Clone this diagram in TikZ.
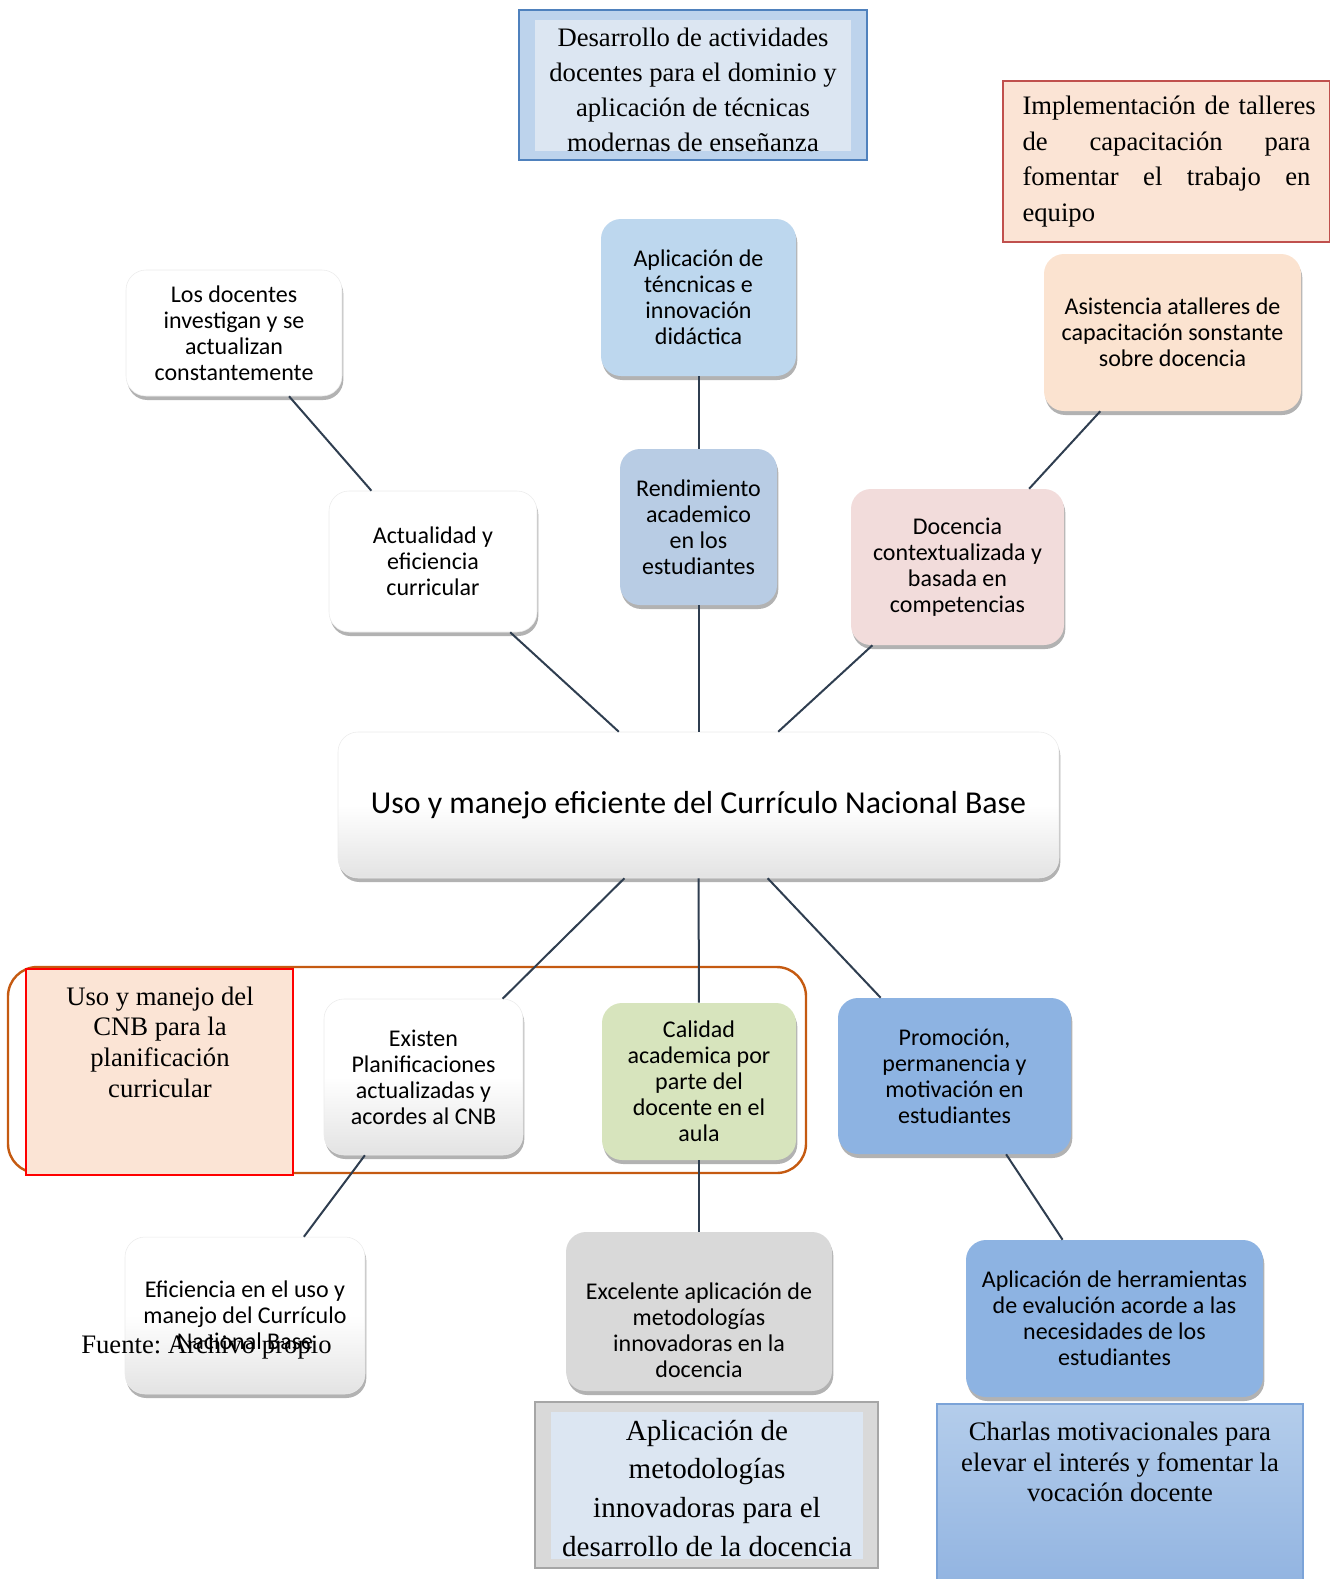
\documentclass[tikz,border=0pt]{standalone}
\usepackage{fontspec}
\setmainfont{Liberation Serif}
\newfontfamily\calibri{Carlito}
\usetikzlibrary{shadows}
\definecolor{azulmarco}{HTML}{4F81BD}
\definecolor{azulbanda}{HTML}{BDD3EC}
\definecolor{azulpalido}{HTML}{DCE6F2}
\definecolor{rojomarco}{HTML}{C0504D}
\definecolor{salmon}{HTML}{FBE4D5}
\definecolor{azultec}{HTML}{BDD7EE}
\definecolor{azulrend}{HTML}{B8CCE4}
\definecolor{melocoton}{HTML}{FBE3D0}
\definecolor{rosado}{HTML}{F2DCDB}
\definecolor{verde}{HTML}{D7E4BD}
\definecolor{azulfuerte}{HTML}{8DB3E2}
\definecolor{grisnodo}{HTML}{D9D9D9}
\definecolor{grismarco}{HTML}{A6A6A6}
\definecolor{azulborde}{HTML}{7BA3D8}
\definecolor{charlasarriba}{HTML}{B4CDEB}
\definecolor{charlasabajo}{HTML}{92B4E1}
\definecolor{naranja}{HTML}{C55A11}
\definecolor{linea}{HTML}{2F3E50}

\begin{document}
\begin{tikzpicture}[x =0.75pt, y =-0.75pt,
  nodo/.style ={rounded corners =15pt, align =center, inner sep =2pt, font =\calibri\fontsize{18}{19.5}\selectfont,
    drop shadow ={shadow xshift =1pt, shadow yshift =-3pt, fill =black, opacity =.3}},
  blanco/.style ={nodo, fill =white, draw =black!8},
  degradado/.style ={nodo, draw =black!8, top color =white, bottom color =black!11, middle color =white},
  caja/.style ={align =center, inner sep =0pt, font =\fontsize{20}{23}\selectfont},
  lin/.style ={draw =linea, line width =1.5pt}]
\useasboundingbox (0,0) rectangle (1330,1579);

\node[draw =azulmarco, fill =azulbanda, line width =1.2pt, minimum width =261pt, minimum height =112.5pt](k1) at (693,85){};
\node[caja, fill =azulpalido, minimum width =237pt, minimum height =98.25pt, font =\fontsize{20}{26.25}\selectfont](c1) at (693,85.5){\rule{0pt}{19.7pt}Desarrollo de actividades\\docentes para el dominio y\\aplicación de técnicas\\modernas de enseñanza};
\node[draw =rojomarco, fill =salmon, line width =1.2pt, minimum width =245.25pt, minimum height =120.75pt, text width =216pt, align =left, font =\fontsize{20}{26.6}\selectfont](c2) at (1166.5,161.5){\mbox{Implementación de talleres}\\de\hfill capacitación\hfill para\\fomentar\hfill el\hfill trabajo\hfill en\\equipo};

\node[blanco, minimum width =162pt, minimum height =94.5pt](a1) at (234,333){Los docentes\\investigan y se\\actualizan\\constantemente};
\node[nodo, fill =azultec, minimum width =146.25pt, minimum height =117.75pt](a2) at (698.5,297.5){Aplicación de\\téncnicas e\\innovación\\didáctica};
\node[nodo, fill =melocoton, minimum width =192.75pt, minimum height =117.75pt](a3) at (1172.5,332.5){Asistencia atalleres de\\capacitación sonstante\\sobre docencia};

\node[blanco, minimum width =156pt, minimum height =105.75pt](b1) at (433,561.5){Actualidad y\\eficiencia\\curricular};
\node[nodo, fill =azulrend, minimum width =117.75pt, minimum height =117pt](b2) at (698.5,527){Rendimiento\\academico\\en los\\estudiantes};
\node[nodo, fill =rosado, minimum width =159.75pt, minimum height =117pt](b3) at (957.5,567){Docencia\\contextualizada y\\basada en\\competencias};

\node[degradado, minimum width =540.75pt, minimum height =109.5pt, font =\calibri\fontsize{23.9}{28}\selectfont](m) at (698.5,805){Uso y manejo eficiente del Currículo Nacional Base};

\node[draw =naranja, line width =1.8pt, rounded corners =22pt, minimum width =598.5pt, minimum height =154.5pt](k2) at (407,1070){};
\node[draw =red, fill =salmon, line width =1.5pt, minimum width =200.25pt, minimum height =154.5pt](k3) at (159.5,1072){};
\node[caja](g1) at (160,1042){Uso y manejo del\\CNB para la\\planificación\\curricular};

\node[degradado, minimum width =149.25pt, minimum height =117pt](d1) at (423.5,1077){Existen\\Planificaciones\\actualizadas y\\acordes al CNB};
\node[nodo, fill =verde, minimum width =145.5pt, minimum height =117.75pt](d2) at (699,1081.5){Calidad\\academica por\\parte del\\docente en el\\aula};
\node[nodo, fill =azulfuerte, minimum width =174.75pt, minimum height =117pt](d3) at (954.5,1076){Promoción,\\permanencia y\\motivación en\\estudiantes};

\node[degradado, minimum width =180pt, minimum height =117.75pt](e1) at (245,1315.5){Eficiencia en el uso y\\manejo del Currículo\\Nacional Base};
\node[nodo, fill =grisnodo, minimum width =199.5pt, minimum height =119.25pt](e2) at (699,1311.5){\rule{0pt}{40pt}Excelente aplicación de\\metodologías\\innovadoras en la\\docencia};
\node[nodo, fill =azulfuerte, minimum width =222.75pt, minimum height =117.75pt](e3) at (1114.5,1318.5){Aplicación de herramientas\\de evalución acorde a las\\necesidades de los\\estudiantes};

\node[draw =grismarco, fill =grisnodo, line width =1.2pt, minimum width =257.25pt, minimum height =124.5pt](k4) at (706.5,1485){};
\node[caja, fill =azulpalido, minimum width =234pt, minimum height =110.25pt, font =\fontsize{21.8}{29}\selectfont](f1) at (707,1485.5){\rule{0pt}{19.4pt}Aplicación de\\metodologías\\innovadoras para el\\desarrollo de la docencia};
\node[draw =azulborde, top color =charlasarriba, bottom color =charlasabajo, line width =1.2pt, minimum width =274.5pt, minimum height =135pt](k5) at (1120,1494){};
\node[caja](f2) at (1120,1462){Charlas motivacionales para\\elevar el interés y fomentar la\\vocación docente};

\draw[lin](a1) -- (b1);
\draw[lin](a2) -- (b2);
\draw[lin](a3) -- (b3);
\draw[lin](b1) -- (m);
\draw[lin](b2) -- (m);
\draw[lin](b3) -- (m);
\draw[lin](m) -- (d1);
\draw[lin](m) -- (d2);
\draw[lin](m) -- (d3);
\draw[lin](d1) -- (e1);
\draw[lin](d2) -- (e2);
\draw[lin](d3) -- (e3);

\node[caja, anchor =west](fuente) at (81,1347){Fuente:\ Archivo propio};
\end{tikzpicture}
\end{document}
